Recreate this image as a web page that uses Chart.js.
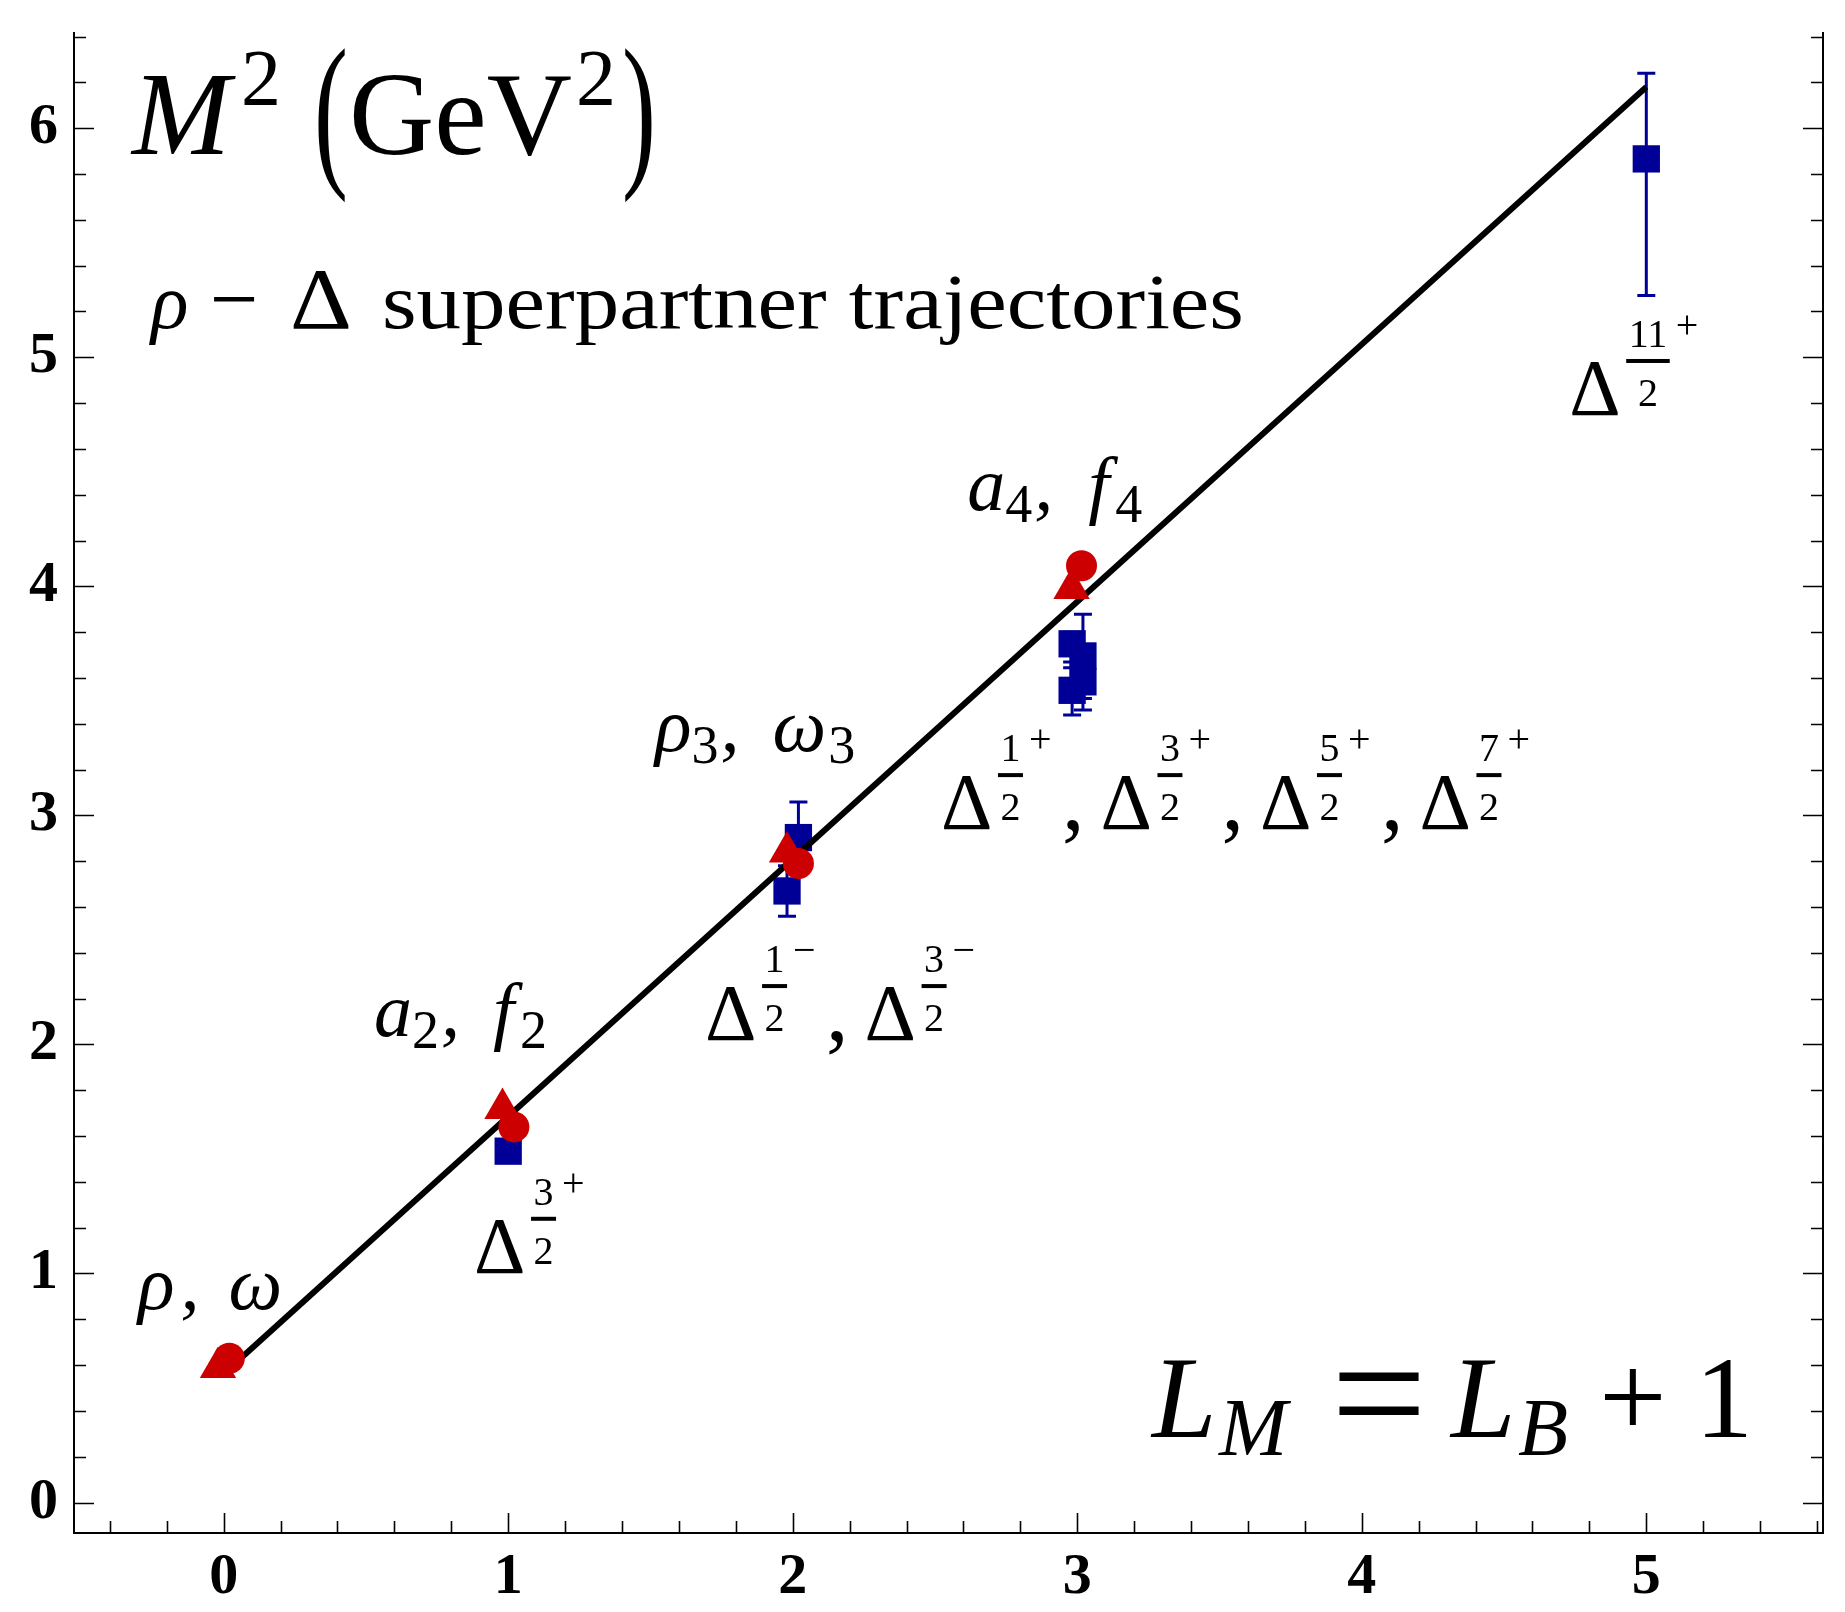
<!doctype html>
<html lang="en">
<head>
	<meta charset="utf-8">
	<title>rho - Delta superpartner trajectories</title>
	<script src="https://cdn.jsdelivr.net/npm/chart.js@4.4.0/dist/chart.umd.min.js"></script>
	<style>
		html, body { margin: 0; padding: 0; background: #fff; }
		canvas { display: block; }
	</style>
</head>
<body>
	<canvas id="myChart" width="1845" height="1612"></canvas>

	<script>
		// x = orbital angular momentum L, y = M^2 in GeV^2
		var lineL = [0, 5];
		var lineM2 = [0.562, 6.18];

		// rho, a2, rho3, a4 (triangles)
		var triL = [-0.02, 0.98, 1.98, 2.98];
		var triM2 = [0.59, 1.72, 2.84, 3.99];

		// omega, f2, omega3, f4 (circles)
		var circL = [0.02, 1.02, 2.02, 3.015];
		var circM2 = [0.63, 1.64, 2.79, 4.09];

		// Delta states (squares) with error bars
		var deltaL = [1.0, 1.98, 2.02, 2.982, 2.982, 3.02, 3.02, 5.0];
		var deltaM2 = [1.534, 2.67, 2.903, 3.749, 3.546, 3.696, 3.583, 5.866];
		var deltaLo = [null, 2.56, 2.748, 3.67, 3.438, 3.51, 3.46, 5.27];
		var deltaHi = [null, 2.78, 3.058, 3.80, 3.645, 3.878, 3.70, 6.24];

		var xTickLabels = ['0', '1', '2', '3', '4', '5'];
		var yTickLabels = ['0', '1', '2', '3', '4', '5', '6'];

		var RED = '#cc0000';
		var BLUE = '#000096';
		var SERIF = '"Liberation Serif", "Times New Roman", serif';

		function pts(xs, ys) {
			var out = [];
			for (var i = 0; i < xs.length; i++) out.push({x: xs[i], y: ys[i]});
			return out;
		}
		function isInt(v) { return Math.abs(v - Math.round(v)) < 1e-6; }

		// minor ticks every 0.2 between lo and hi
		function tickList(lo, hi) {
			var out = [];
			for (var k = Math.ceil(lo * 5 - 1e-9); k <= Math.floor(hi * 5 + 1e-9); k++) out.push({value: Math.round(k * 2) / 10});
			return out;
		}

		// inward ticks on left, bottom and right, no top line
		var framePlugin = {
			id: 'frame',
			afterDatasetsDraw: function(chart) {
				var c = chart.ctx, a = chart.chartArea, sx = chart.scales.x, sy = chart.scales.y;
				c.save();
				c.strokeStyle = '#000';
				c.lineWidth = 2;
				c.beginPath();
				c.moveTo(a.left, a.top);
				c.lineTo(a.left, a.bottom);
				c.lineTo(a.right, a.bottom);
				c.lineTo(a.right, a.top);
				c.stroke();
				c.lineWidth = 1.6;
				c.beginPath();
				sx.ticks.forEach(function(t) {
					var p = Math.round(sx.getPixelForValue(t.value)) + 0.5;
					var len = isInt(t.value) ? 20 : 12;
					c.moveTo(p, a.bottom);
					c.lineTo(p, a.bottom - len);
				});
				sy.ticks.forEach(function(t) {
					var p = Math.round(sy.getPixelForValue(t.value)) + 0.5;
					var len = isInt(t.value) ? 20 : 12;
					c.moveTo(a.left, p);
					c.lineTo(a.left + len, p);
					c.moveTo(a.right, p);
					c.lineTo(a.right - len, p);
				});
				c.stroke();
				c.restore();
			}
		};

		var errorBarPlugin = {
			id: 'errorBars',
			beforeDatasetsDraw: function(chart) {
				var c = chart.ctx, sx = chart.scales.x, sy = chart.scales.y;
				c.save();
				c.strokeStyle = BLUE;
				c.lineWidth = 3;
				c.beginPath();
				for (var i = 0; i < deltaL.length; i++) {
					if (deltaLo[i] == null) continue;
					var x = sx.getPixelForValue(deltaL[i]);
					var y1 = sy.getPixelForValue(deltaLo[i]);
					var y2 = sy.getPixelForValue(deltaHi[i]);
					c.moveTo(x, y1); c.lineTo(x, y2);
					c.moveTo(x - 9, y1); c.lineTo(x + 9, y1);
					c.moveTo(x - 9, y2); c.lineTo(x + 9, y2);
				}
				c.stroke();
				c.restore();
			}
		};

		function runs(c, x, y, list) {
			var cx = x;
			list.forEach(function(r) {
				c.font = r.f;
				if (r.at != null) cx = x + r.at;
				var w = c.measureText(r.t).width;
				var s = r.sx || 1;
				if (r.w) s = r.w / w;
				c.save();
				c.translate(cx, y + (r.dy || 0));
				c.scale(s, 1);
				c.fillText(r.t, 0, 0);
				c.restore();
				cx += w * s + (r.gap || 0);
			});
		}

		function deltaTerm(c, x, y, num, sign) {
			c.font = '80px ' + SERIF;
			c.fillText('\u0394', x, y);
			c.font = '40px ' + SERIF;
			var w = c.measureText(num).width + 5;
			var fx = x + 57;
			c.textAlign = 'center';
			c.fillText(num, fx + w / 2, y - 68);
			c.fillText('2', fx + w / 2, y - 9);
			c.textAlign = 'left';
			c.fillRect(fx, y - 56, w, 4);
			c.fillText(sign, fx + w + 6, y - 77);
		}

		var labelPlugin = {
			id: 'labels',
			afterDraw: function(chart) {
				var c = chart.ctx, sx = chart.scales.x, sy = chart.scales.y;
				function P(x, y) { return [sx.getPixelForValue(x), sy.getPixelForValue(y)]; }
				c.save();
				c.fillStyle = '#000';
				c.textBaseline = 'alphabetic';
				c.textAlign = 'left';

				var it = function(s) { return 'italic ' + s + 'px ' + SERIF; };
				var up = function(s) { return s + 'px ' + SERIF; };

				var p = P(-0.322, 5.887);
				runs(c, p[0], p[1], [
					{t: 'M', f: it(118)},
					{t: '2', f: up(80), at: 109, dy: -49},
					{t: '(', f: up(170), at: 182, dy: 12, sx: 0.6},
					{t: 'GeV', f: up(118), at: 217},
					{t: '2', f: up(80), at: 444, dy: -49},
					{t: ')', f: up(170), at: 490, dy: 12, sx: 0.6}
				]);

				p = P(-0.2555, 5.1275);
				runs(c, p[0], p[1], [
					{t: '\u03c1', f: it(78)},
					{t: '\u2212', f: up(86), at: 59},
					{t: '\u0394', f: up(86), at: 139, sx: 1.12},
					{t: 'superpartner trajectories', f: up(78), at: 231, w: 862}
				]);

				p = P(-0.301, 0.845);
				runs(c, p[0], p[1], [
					{t: '\u03c1', f: it(76), gap: 6},
					{t: ', ', f: it(76), gap: 10},
					{t: '\u03c9', f: it(76)}
				]);

				p = P(0.528, 2.037);
				runs(c, p[0], p[1], [
					{t: 'a', f: it(76)}, {t: '2', f: up(54), dy: 12, gap: 2},
					{t: ', ', f: it(76), gap: 14}, {t: 'f', f: it(76), gap: 6}, {t: '2', f: up(54), dy: 12}
				]);

				p = P(1.516, 3.281);
				runs(c, p[0], p[1], [
					{t: '\u03c1', f: it(76)}, {t: '3', f: up(54), dy: 12, gap: 2},
					{t: ', ', f: it(76), gap: 14}, {t: '\u03c9', f: it(76), gap: 2}, {t: '3', f: up(54), dy: 12}
				]);

				p = P(2.613, 4.333);
				runs(c, p[0], p[1], [
					{t: 'a', f: it(76)}, {t: '4', f: up(54), dy: 12, gap: 2},
					{t: ', ', f: it(76), gap: 16}, {t: 'f', f: it(76), gap: 6}, {t: '4', f: up(54), dy: 12}
				]);

				var groups = [
					{x: 0.880, y: 1.003, terms: [['3', '+']]},
					{x: 1.692, y: 2.019, terms: [['1', '\u2212'], ['3', '\u2212']]},
					{x: 2.521, y: 2.940, terms: [['1', '+'], ['3', '+'], ['5', '+'], ['7', '+']]},
					{x: 4.729, y: 4.748, terms: [['11', '+']]}
				];
				groups.forEach(function(g) {
					var q = P(g.x, g.y);
					g.terms.forEach(function(tm, k) {
						var tx = q[0] + k * 159.5;
						deltaTerm(c, tx, q[1], tm[0], tm[1]);
						if (k < g.terms.length - 1) {
							c.font = up(90);
							c.fillText(',', tx + 121, q[1]);
						}
					});
				});

				p = P(3.263, 0.287);
				runs(c, p[0], p[1], [
					{t: 'L', f: it(116)},
					{t: 'M', f: it(82), at: 67, dy: 18},
					{t: '=', f: up(170), at: 179, dy: 13},
					{t: 'L', f: it(116), at: 299},
					{t: 'B', f: it(82), at: 366, dy: 18},
					{t: '+', f: up(120), at: 447},
					{t: '1', f: up(116), at: 543}
				]);
				c.restore();
			}
		};

		function noPad(s) { s.paddingTop = 0; s.paddingBottom = 0; s.paddingLeft = 0; s.paddingRight = 0; }

		var tickFont = {family: 'Liberation Serif', size: 58, weight: 'bold'};

		var ctx = document.getElementById('myChart');
		var myChart = new Chart(ctx, {
			type: 'scatter',
			data: {
				datasets: [
					{
						label: 'trajectory',
						data: pts(lineL, lineM2),
						showLine: true,
						borderColor: '#000',
						borderWidth: 6,
						pointRadius: 0,
						order: 2
					},
					{
						label: 'Delta',
						data: pts(deltaL, deltaM2),
						pointStyle: 'rect',
						pointRadius: 19.3,
						backgroundColor: BLUE,
						borderColor: BLUE,
						borderWidth: 0,
						order: 3
					},
					{
						label: 'isovector',
						data: pts(triL, triM2),
						pointStyle: 'triangle',
						pointRadius: 21,
						backgroundColor: RED,
						borderColor: RED,
						borderWidth: 0,
						order: 1
					},
					{
						label: 'isoscalar',
						data: pts(circL, circM2),
						pointStyle: 'circle',
						pointRadius: 15.5,
						backgroundColor: RED,
						borderColor: RED,
						borderWidth: 0,
						order: 0
					}
				]
			},
			options: {
				responsive: false,
				animation: false,
				layout: {padding: {top: 32, right: 22, left: 0, bottom: 0}},
				plugins: {legend: {display: false}, tooltip: {enabled: false}},
				scales: {
					x: {
						type: 'linear',
						min: -0.526,
						max: 5.621,
						afterBuildTicks: function(s) { s.ticks = tickList(s.min, s.max); },
						afterFit: function(s) { s.height = 79; noPad(s); },
						grid: {display: false, drawTicks: false},
						border: {display: false},
						ticks: {
							autoSkip: false,
							maxRotation: 0,
							padding: 10,
							color: '#000',
							font: tickFont,
							callback: function(v) { return isInt(v) ? xTickLabels[Math.round(v)] : ''; }
						}
					},
					y: {
						type: 'linear',
						min: -0.133,
						max: 6.42,
						afterBuildTicks: function(s) { s.ticks = tickList(s.min, s.max); },
						afterFit: function(s) { s.width = 74; noPad(s); },
						grid: {display: false, drawTicks: false},
						border: {display: false},
						ticks: {
							autoSkip: false,
							padding: 16,
							color: '#000',
							font: tickFont,
							callback: function(v) { return isInt(v) ? yTickLabels[Math.round(v)] : ''; }
						}
					}
				}
			},
			plugins: [errorBarPlugin, framePlugin, labelPlugin]
		});
	</script>
</body>
</html>
